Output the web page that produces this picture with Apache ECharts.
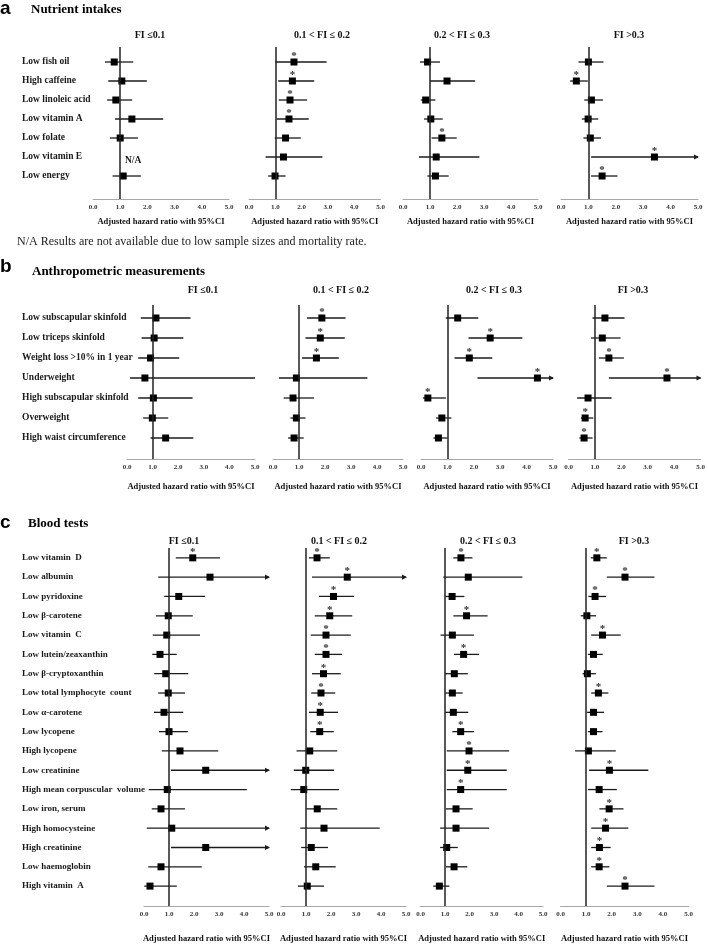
<!DOCTYPE html>
<html><head><meta charset="utf-8">
<script src="https://cdn.jsdelivr.net/npm/echarts@6.0.0/dist/echarts.min.js"></script>
<style>html,body{margin:0;padding:0;background:#fff}#c{width:708px;height:944px}</style>
</head><body><div id="c"></div>
<script>
// ---------- DATA ----------
const heads = ['FI \u22640.1', '0.1 < FI \u2264 0.2', '0.2 < FI \u2264 0.3', 'FI >0.3'];
const axisTitle = 'Adjusted hazard ratio with 95%CI';

// a: Nutrient intakes
const aRows = ['Low fish oil', 'High caffeine', 'Low linoleic acid', 'Low vitamin A', 'Low folate', 'Low vitamin E', 'Low energy'];
const aEst = [
  [0.78, 1.06, 0.84, 1.43, 1.00, null, 1.11],
  [1.71, 1.65, 1.56, 1.52, 1.39, 1.31, 0.99],
  [0.91, 1.63, 0.84, 1.03, 1.44, 1.23, 1.20],
  [1.00, 0.56, 1.11, 0.99, 1.07, 3.41, 1.50]
];
const aLo = [
  [0.44, 0.56, 0.52, 0.81, 0.62, null, 0.72],
  [1.00, 1.11, 1.13, 1.05, 0.98, 0.63, 0.73],
  [0.63, 1.00, 0.66, 0.78, 1.06, 0.59, 0.90],
  [0.64, 0.33, 0.85, 0.76, 0.82, 1.10, 1.10]
];
const aHi = [
  [1.48, 1.98, 1.44, 2.58, 1.65, null, 1.76],
  [2.95, 2.48, 2.21, 2.27, 1.97, 2.79, 1.39],
  [1.37, 2.67, 1.20, 1.47, 1.99, 2.83, 1.69],
  [1.55, 0.98, 1.53, 1.36, 1.46, 5.00, 2.06]
];
const aSig = [
  [0, 0, 0, 0, 0, 0, 0],
  [1, 1, 1, 1, 0, 0, 0],
  [0, 0, 0, 0, 1, 0, 0],
  [0, 1, 0, 0, 0, 1, 1]
];
const aArrow = [[], [], [], [5]];

// b: Anthropometric measurements
const bRows = ['Low subscapular skinfold', 'Low triceps skinfold', 'Weight loss >10% in 1 year', 'Underweight', 'High subscapular skinfold', 'Overweight', 'High waist circumference'];
const bEst = [
  [1.13, 1.06, 0.92, 0.70, 1.03, 0.99, 1.51],
  [1.88, 1.82, 1.67, 0.90, 0.77, 0.90, 0.81],
  [1.39, 2.62, 1.83, 4.41, 0.26, 0.79, 0.66],
  [1.38, 1.28, 1.53, 3.73, 0.74, 0.63, 0.59]
];
const bLo = [
  [0.54, 0.57, 0.44, 0.12, 0.44, 0.63, 0.92],
  [1.31, 1.25, 1.12, 0.23, 0.41, 0.67, 0.58],
  [0.94, 1.80, 1.27, 2.14, 0.07, 0.57, 0.47],
  [0.91, 0.85, 1.15, 1.53, 0.33, 0.47, 0.41]
];
const bHi = [
  [2.48, 2.20, 2.04, 5.00, 2.56, 1.61, 2.59],
  [2.79, 2.76, 2.53, 3.63, 1.58, 1.25, 1.18],
  [2.17, 3.84, 2.70, 5.00, 0.94, 1.15, 1.00],
  [2.12, 1.97, 2.10, 5.00, 1.63, 0.94, 0.91]
];
const bSig = [
  [0, 0, 0, 0, 0, 0, 0],
  [1, 1, 1, 0, 0, 0, 0],
  [0, 1, 1, 1, 1, 0, 0],
  [0, 0, 1, 1, 0, 1, 1]
];
const bArrow = [[], [], [3], [3]];

// c: Blood tests
const cRows = ['Low vitamin  D', 'Low albumin', 'Low pyridoxine', 'Low \u03b2-carotene', 'Low vitamin  C', 'Low lutein/zeaxanthin', 'Low \u03b2-cryptoxanthin', 'Low total lymphocyte  count', 'Low \u03b1-carotene', 'Low lycopene', 'High lycopene', 'Low creatinine', 'High mean corpuscular  volume', 'Low iron, serum', 'High homocysteine', 'High creatinine', 'Low haemoglobin', 'High vitamin  A'];
const cEst = [
  [1.95, 2.64, 1.39, 0.97, 0.91, 0.64, 0.87, 0.97, 0.80, 1.00, 1.44, 2.47, 0.93, 0.68, 1.11, 2.47, 0.68, 0.24],
  [1.44, 2.65, 2.10, 1.95, 1.80, 1.80, 1.70, 1.60, 1.57, 1.55, 1.15, 0.99, 0.91, 1.45, 1.72, 1.21, 1.39, 1.05],
  [1.65, 1.95, 1.29, 1.88, 1.30, 1.76, 1.38, 1.30, 1.34, 1.64, 1.98, 1.93, 1.64, 1.45, 1.45, 1.07, 1.37, 0.77],
  [1.42, 2.52, 1.35, 1.03, 1.64, 1.29, 1.05, 1.48, 1.29, 1.29, 1.09, 1.91, 1.51, 1.90, 1.76, 1.52, 1.51, 2.52]
];
const cLo = [
  [1.27, 0.57, 0.81, 0.48, 0.35, 0.33, 0.41, 0.57, 0.40, 0.60, 0.71, 1.08, 0.19, 0.31, 0.11, 1.08, 0.17, 0.01],
  [1.12, 1.24, 1.52, 1.35, 1.19, 1.35, 1.24, 1.21, 1.12, 1.17, 0.62, 0.51, 0.39, 1.01, 0.77, 0.81, 0.92, 0.68],
  [1.34, 0.93, 1.00, 1.34, 0.82, 1.37, 1.00, 1.00, 1.00, 1.30, 1.07, 1.07, 1.07, 1.04, 0.80, 0.80, 1.04, 0.52],
  [1.18, 1.81, 1.09, 0.79, 1.20, 1.07, 0.86, 1.20, 1.03, 1.07, 0.57, 1.12, 1.07, 1.52, 1.20, 1.20, 1.20, 1.81]
];
const cHi = [
  [3.04, 5.00, 2.44, 1.95, 2.24, 1.31, 1.77, 1.64, 1.57, 1.75, 2.97, 5.00, 4.11, 1.64, 5.00, 5.00, 2.31, 1.31],
  [1.95, 5.00, 2.92, 2.85, 2.79, 2.44, 2.39, 2.17, 2.28, 2.11, 2.25, 2.12, 2.32, 2.25, 3.95, 1.88, 2.19, 1.72],
  [2.12, 4.16, 1.79, 2.74, 2.18, 2.39, 1.93, 1.72, 1.95, 2.18, 3.62, 3.52, 3.52, 2.13, 2.80, 1.52, 1.91, 1.18],
  [1.81, 3.67, 1.78, 1.39, 2.35, 1.65, 1.38, 1.87, 1.70, 1.64, 2.16, 3.43, 2.20, 2.46, 2.65, 1.96, 1.91, 3.67]
];
const cSig = [
  [1, 0, 0, 0, 0, 0, 0, 0, 0, 0, 0, 0, 0, 0, 0, 0, 0, 0],
  [1, 1, 1, 1, 1, 1, 1, 1, 1, 1, 0, 0, 0, 0, 0, 0, 0, 0],
  [1, 0, 0, 1, 0, 1, 0, 0, 0, 1, 1, 1, 1, 0, 0, 0, 0, 0],
  [1, 1, 1, 0, 1, 0, 0, 1, 0, 0, 0, 1, 0, 1, 1, 1, 1, 1]
];
const cArrow = [[1, 11, 14, 15], [1], [], []];

// ---------- LAYOUT ----------
const SERIF = '"Liberation Serif", "DejaVu Serif", serif';
const panels = [
  { rows: aRows, est: aEst, lo: aLo, hi: aHi, sig: aSig, arrow: aArrow,
    top: 47, height: 152, ymin: -0.79, ymax: 7.21, nameGap: 18, labelSize: 9.5,
    grids: [[93, 136], [249, 131.5], [403, 135], [561, 137]] },
  { rows: bRows, est: bEst, lo: bLo, hi: bHi, sig: bSig, arrow: bArrow,
    top: 305, height: 154, ymin: -0.65, ymax: 7.05, nameGap: 23, labelSize: 9.5,
    grids: [[127, 128], [273, 130], [421, 132], [568.5, 132]] },
  { rows: cRows, est: cEst, lo: cLo, hi: cHi, sig: cSig, arrow: cArrow,
    top: 548, height: 361, ymin: -0.51, ymax: 18.03, nameGap: 28, labelSize: 9,
    grids: [[144, 125], [281, 125], [420.5, 122.5], [560.5, 128]] }
];

function renderItem(params, api) {
  const y = api.value(0), est = api.value(1), lo = api.value(2), hi = api.value(3);
  const sig = api.value(4), arr = api.value(5);
  const a = api.coord([lo, y]), b = api.coord([hi, y]), c = api.coord([est, y]);
  const ch = [{ type: 'line', shape: { x1: a[0], y1: a[1], x2: b[0], y2: b[1] },
    style: { stroke: '#1c1c1c', lineWidth: 1.3 } }];
  if (arr) ch.push({ type: 'polygon', shape: { points: [[b[0] + 1, b[1]], [b[0] - 4, b[1] - 2.6], [b[0] - 4, b[1] + 2.6]] },
    style: { fill: '#1c1c1c' } });
  ch.push({ type: 'rect', shape: { x: c[0] - 3.5, y: c[1] - 3.5, width: 7, height: 7 }, style: { fill: '#000' } });
  if (sig) ch.push({ type: 'text', style: { text: '*', x: c[0], y: c[1] - 6, align: 'center', verticalAlign: 'middle',
    font: 'bold 11px ' + SERIF, fill: '#333' } });
  return { type: 'group', children: ch };
}

const grid = [], xAxis = [], yAxis = [], series = [];
panels.forEach((p, pi) => {
  p.grids.forEach((g, k) => {
    const idx = grid.length;
    grid.push({ left: g[0], width: g[1], top: p.top, height: p.height, containLabel: false });
    xAxis.push({
      gridIndex: idx, type: 'value', min: 0, max: 5, interval: 1, position: 'bottom',
      axisLine: { show: true, onZero: false, lineStyle: { color: '#a8a8a8', width: 1 } },
      axisTick: { show: false }, splitLine: { show: false },
      axisLabel: { formatter: v => v.toFixed(1), fontFamily: SERIF, fontWeight: 'bold', fontSize: 7, color: '#333', margin: 5 },
      name: axisTitle, nameLocation: 'middle', nameGap: p.nameGap,
      nameTextStyle: { fontFamily: SERIF, fontWeight: 'bold', fontSize: 8.5, color: '#111' }
    });
    yAxis.push({
      gridIndex: idx, type: 'value', inverse: true, min: p.ymin, max: p.ymax,
      show: k === 0,
      axisLine: { show: false, onZero: false }, axisTick: { show: false }, splitLine: { show: false },
      axisLabel: {
        show: k === 0, customValues: p.rows.map((_, i) => i),
        formatter: v => p.rows[Math.round(v)] || '',
        align: 'left', margin: g[0] - 22,
        fontFamily: SERIF, fontWeight: 'bold', fontSize: p.labelSize, color: '#1a1a1a'
      }
    });
    const data = [];
    p.rows.forEach((r, i) => {
      if (p.est[k][i] == null) return;
      data.push([i, p.est[k][i], p.lo[k][i], p.hi[k][i], p.sig[k][i], p.arrow[k].indexOf(i) >= 0 ? 1 : 0]);
    });
    series.push({
      type: 'custom', xAxisIndex: idx, yAxisIndex: idx, renderItem, data,
      encode: { x: [1, 2, 3], y: 0 }, silent: true, animation: false,
      markLine: { silent: true, symbol: 'none', label: { show: false }, animation: false,
        lineStyle: { color: '#222', width: 1.5, type: 'solid' }, data: [{ xAxis: 1 }] }
    });
  });
});

// headers and texts
const headPos = [
  { y: 35, xs: [150, 322, 462, 629] },
  { y: 290, xs: [203, 341, 494, 633] },
  { y: 541, xs: [184, 339, 488, 634] }
];
const graphic = [];
headPos.forEach(h => h.xs.forEach((x, k) => graphic.push({ type: 'text', x: x, y: h.y,
  style: { text: heads[k], align: 'center', verticalAlign: 'middle', font: 'bold 10px ' + SERIF, fill: '#111' } })));
const letters = [['a', 9], ['b', 267], ['c', 523]];
letters.forEach(l => graphic.push({ type: 'text', x: 0, y: l[1],
  style: { text: l[0], verticalAlign: 'middle', font: 'bold 19px "Liberation Sans", Arial, sans-serif', fill: '#000' } }));
const sect = [['Nutrient intakes', 31, 10], ['Anthropometric measurements', 32, 272], ['Blood tests', 28, 524]];
sect.forEach(s => graphic.push({ type: 'text', x: s[1], y: s[2],
  style: { text: s[0], verticalAlign: 'middle', font: 'bold 13px ' + SERIF, fill: '#000' } }));
graphic.push({ type: 'text', x: 125, y: 161, style: { text: 'N/A', verticalAlign: 'middle', font: 'bold 9.5px ' + SERIF, fill: '#1a1a1a' } });
graphic.push({ type: 'text', x: 17, y: 242, style: { text: 'N/A Results are not available due to low sample sizes and mortality rate.',
  verticalAlign: 'middle', font: '12px ' + SERIF, fill: '#222' } });

const chart = echarts.init(document.getElementById('c'), null, { renderer: 'canvas' });
chart.setOption({ animation: false, backgroundColor: '#fff', grid, xAxis, yAxis, series, graphic });
</script></body></html>
